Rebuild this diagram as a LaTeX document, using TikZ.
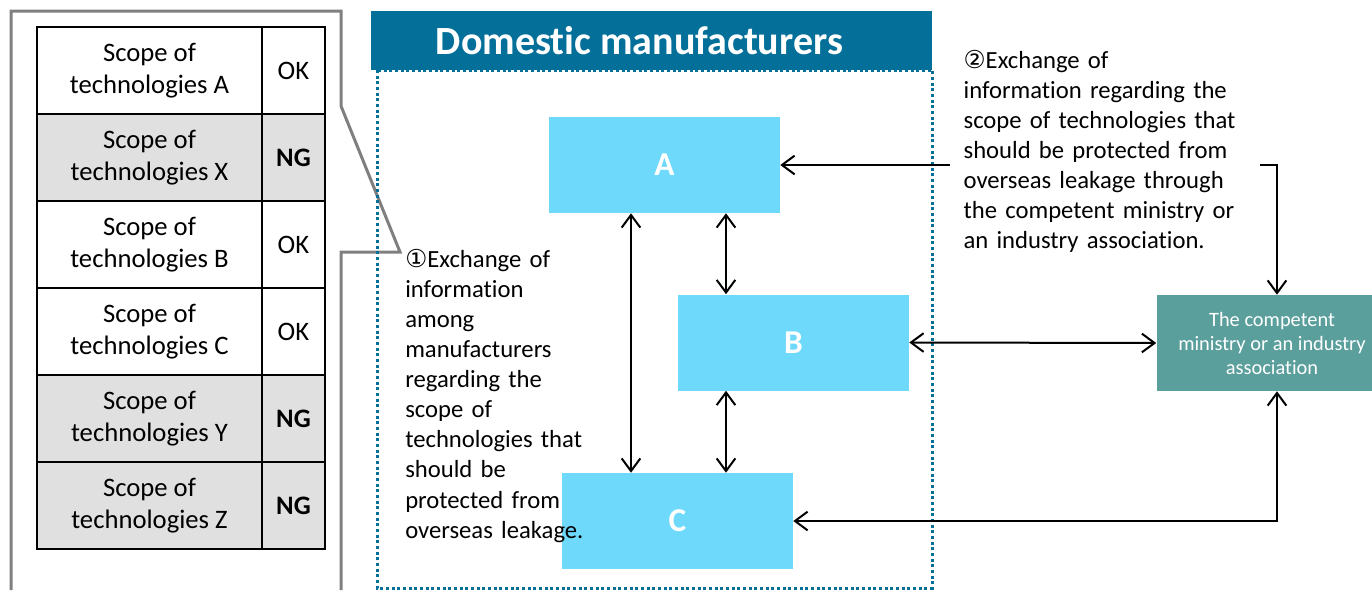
\documentclass[tikz,border=0pt]{standalone}
\usepackage{fontspec}
\setmainfont{Carlito}[Ligatures={NoCommon}]
\newfontfamily\circfont{DejaVu Sans}
\usetikzlibrary{arrows.meta}
\definecolor{hdrblue}{HTML}{04709A}
\definecolor{boxcyan}{HTML}{6FD9FC}
\definecolor{govteal}{HTML}{5B9F9D}
\definecolor{framegray}{HTML}{7F7F7F}
\definecolor{rowgray}{HTML}{E0E0E0}
\begin{document}
\begin{tikzpicture}[x=0.75pt,y=-0.75pt,
  mfr/.style={fill=boxcyan, text=white, font=\bfseries\fontsize{25}{30}\selectfont, minimum width=173.25pt, minimum height=72pt, inner sep=0pt},
  biarrow/.style={{Straight Barb[length=9.5pt,width=14pt]}-{Straight Barb[length=9.5pt,width=14pt]}, line width=1.5pt},
  cell/.style={draw=black, line width=1.1pt, minimum height=65.25pt, inner sep=0pt, align=center, font=\fontsize{20}{24}\selectfont},
  note/.style={align=left, anchor=base west, font=\fontsize{18.5}{22.6}\selectfont}]
\useasboundingbox (0,0) rectangle (1372,590);

% scopes table and its callout
\draw[framegray, line width=2.25pt] (11,590) -- (11,11) -- (341,11) -- (341,106) -- (400,252) coordinate (tip) -- (341,252) -- (341,590);
\foreach \i/\t/\v/\c in {1/A/OK/white, 2/X/\textbf{NG}/rowgray, 3/B/OK/white, 4/C/OK/white, 5/Y/\textbf{NG}/rowgray, 6/Z/\textbf{NG}/rowgray} {
  \node[cell, fill=\c, minimum width=168.75pt] (s\i) at (149.5,{70.5+87*(\i-1)}) {Scope of\\technologies \t};
  \node[cell, fill=\c, minimum width=47.25pt] (v\i) at (293.5,{70.5+87*(\i-1)}) {\v};
}

% domestic manufacturers
\draw[hdrblue, line width=2.25pt, dotted] (377,70) rectangle (932,588);
\node[fill=hdrblue, text=white, font=\bfseries\fontsize{30}{36}\selectfont, minimum width=420.75pt, minimum height=44.25pt] (hdr) at (651.5,40.5) {Domestic manufacturers\hspace*{18pt}};
\node[mfr] (A) at (664.5,165) {A};
\node[mfr] (B) at (793.5,342.5) {B};
\node[mfr] (C) at (677.5,521) {C};
\node[fill=govteal, text=white, minimum width=173.25pt, minimum height=72pt, align=center, font=\fontsize{15.3}{18}\selectfont] (gov) at (1272,343) {The competent\\ministry or an industry\\association};

\coordinate (xac) at (631,0);
\coordinate (xab) at (726,0);
\coordinate (xg) at (1277,0);
\draw[biarrow] (A.south -| xac) -- (C.north -| xac);
\draw[biarrow] (A.south -| xab) -- (B.north -| xab);
\draw[biarrow] (B.south -| xab) -- (C.north -| xab);
\draw[biarrow] (B.east) -- (gov.west);
\draw[biarrow] (A.east) -| (gov.north -| xg);
\draw[biarrow] (C.east) -| (gov.south -| xg);

\node[note, fill=white, text width=212pt, inner xsep=10pt, inner ysep=2pt] (lbl2) at (950,68) {{\circfont ②}Exchange of\\information regarding the\\scope of technologies that\\should be protected from\\overseas leakage through\\the competent ministry or\\an industry association.};
\node[note, text width=150pt, inner sep=0pt] (lbl1) at (405,267) {{\circfont ①}Exchange of\\information\\among\\manufacturers\\regarding the\\scope of\\technologies that\\should be\\protected from\\overseas leakage.};
\end{tikzpicture}
\end{document}
